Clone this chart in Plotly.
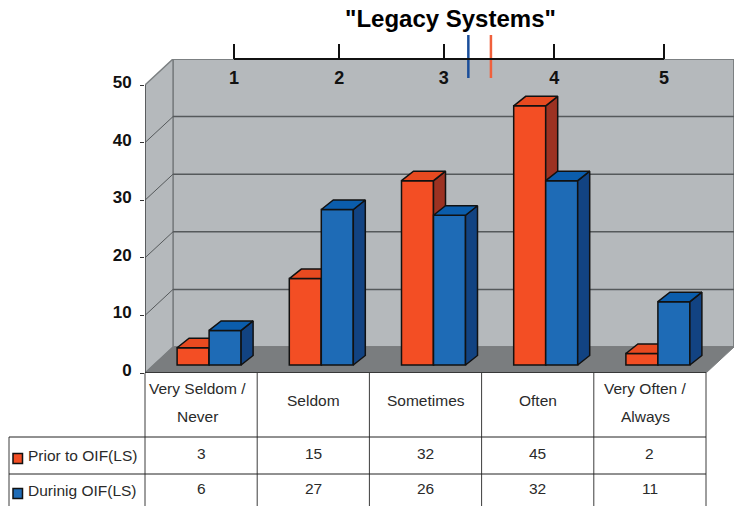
import plotly.graph_objects as go

W, H = 739, 506

CATEGORIES = [["Very Seldom /", "Never"], ["Seldom"], ["Sometimes"], ["Often"], ["Very Often /", "Always"]]
PRIOR = [3, 15, 32, 45, 2]
DURING = [6, 27, 26, 32, 11]
SERIES_NAMES = ["Prior to OIF(LS)", "Durinig OIF(LS)"]
Y_TICKS = [0, 10, 20, 30, 40, 50]
SCALE_TICKS = [1, 1.98, 2.95, 3.98, 5]
SCALE_LABELS = ["1", "2", "3", "4", "5"]
MEAN_PRIOR = 3.39
MEAN_DURING = 3.18

FONT = "Liberation Sans"
ORANGE, ORANGE_SIDE, ORANGE_TOP = "#F34E24", "#9C3222", "#E84A20"
BLUE, BLUE_SIDE, BLUE_TOP = "#1E6BB6", "#124382", "#0B5DAC"
WALL, FLOOR = "#B5B9BC", "#7A7D7F"

# pixel geometry of the front plane
X0, XW = 145, 112.2
Y0, YU = 373, 5.76
BACK_X, BACK_Y = 28 / XW, 26 / YU      # chart depth in data units
BAR_DX, BAR_DY = 12 / XW, 9.5 / YU     # bar depth in data units
BAR_W = 32 / XW
BAR_LIFT = 8 / YU
BAR_SHIFT = 8 / XW
X_MAX = (734 - X0) / XW
Y_MAX = (Y0 - 59) / YU


def px(x):
    return x / W


def py(y):
    return 1 - y / H


fig = go.Figure()


def add_series(values, shift, col, side, top, name, xa, ya):
    xs = [i + 0.5 + BAR_SHIFT + shift for i in range(len(values))]
    fig.add_trace(go.Bar(x=xs, y=values, base=[BAR_LIFT] * len(values), width=BAR_W, name=name,
                         marker=dict(color=col, line=dict(color="#111111", width=1.5)),
                         xaxis=xa, yaxis=ya, showlegend=False))
    for xc, v in zip(xs, values):
        l, r = xc - BAR_W / 2, xc + BAR_W / 2
        t = BAR_LIFT + v
        fig.add_trace(go.Scatter(x=[r, r + BAR_DX, r + BAR_DX, r, r], y=[BAR_LIFT, BAR_LIFT + BAR_DY, t + BAR_DY, t, BAR_LIFT],
                                 fill="toself", fillcolor=side, mode="lines", line=dict(color="#111111", width=1.5),
                                 hoverinfo="skip", showlegend=False, xaxis=xa, yaxis=ya))
        fig.add_trace(go.Scatter(x=[l, l + BAR_DX, r + BAR_DX, r, l], y=[t, t + BAR_DY, t + BAR_DY, t, t],
                                 fill="toself", fillcolor=top, mode="lines", line=dict(color="#111111", width=1.5),
                                 hoverinfo="skip", showlegend=False, xaxis=xa, yaxis=ya))


add_series(PRIOR, -BAR_W / 2, ORANGE, ORANGE_SIDE, ORANGE_TOP, SERIES_NAMES[0], "x", "y")
add_series(DURING, BAR_W / 2, BLUE, BLUE_SIDE, BLUE_TOP, SERIES_NAMES[1], "x2", "y2")

for val, col in [(MEAN_DURING, "#1A4E9A"), (MEAN_PRIOR, "#F0603C")]:
    fig.add_trace(go.Scatter(x=[val, val], y=[0, 1], mode="lines", line=dict(color=col, width=2.5),
                             hoverinfo="skip", showlegend=False, xaxis="x3", yaxis="y3"))

shapes = []
n = len(CATEGORIES)
# walls and floor, in data coordinates
shapes.append(dict(type="path", layer="below", xref="x", yref="y", fillcolor=WALL, line=dict(color="#7C8082", width=2),
                   path=f"M {BACK_X} {BACK_Y} L {X_MAX} {BACK_Y} L {X_MAX} {50 + BACK_Y} L {BACK_X} {50 + BACK_Y} Z"))
shapes.append(dict(type="path", layer="below", xref="x", yref="y", fillcolor=WALL, line=dict(color="#7C8082", width=1.5),
                   path=f"M 0 0 L {BACK_X} {BACK_Y} L {BACK_X} {50 + BACK_Y} L 0 50 Z"))
shapes.append(dict(type="path", layer="below", xref="x", yref="y", fillcolor=FLOOR, line=dict(color=FLOOR, width=1),
                   path=f"M 0 0 L {n} 0 L {X_MAX} {BACK_Y} L {BACK_X} {BACK_Y} Z"))
for t in Y_TICKS[1:-1]:
    shapes.append(dict(type="line", layer="below", xref="x", yref="y", x0=BACK_X, x1=X_MAX, y0=t + BACK_Y, y1=t + BACK_Y,
                       line=dict(color="#55595B", width=1.5)))
    shapes.append(dict(type="line", layer="below", xref="x", yref="y", x0=0, x1=BACK_X, y0=t, y1=t + BACK_Y,
                       line=dict(color="#55595B", width=1)))
shapes.append(dict(type="line", layer="below", xref="x", yref="y", x0=0, x1=0, y0=0, y1=50, line=dict(color="#4A4D4F", width=1.5)))
shapes.append(dict(type="line", layer="below", xref="x", yref="y", x0=0, x1=n, y0=0, y1=0, line=dict(color="#222222", width=1.5)))
# top scale rule
shapes.append(dict(type="line", xref="x3", yref="paper", x0=SCALE_TICKS[0], x1=SCALE_TICKS[-1], y0=py(59), y1=py(59),
                   line=dict(color="#111111", width=2)))

# table rules
for i in range(n + 1):
    xp = X0 + i * XW
    shapes.append(dict(type="line", xref="paper", yref="paper", x0=px(xp), x1=px(xp), y0=py(373), y1=py(506),
                       line=dict(color="#3C3C3C", width=1)))
shapes.append(dict(type="line", xref="paper", yref="paper", x0=px(9), x1=px(9), y0=py(437), y1=py(506), line=dict(color="#3C3C3C", width=1)))
for yp in (437, 474):
    shapes.append(dict(type="line", xref="paper", yref="paper", x0=px(9), x1=px(706), y0=py(yp), y1=py(yp), line=dict(color="#222222", width=1)))
# legend keys
for yc, col in ((458.5, ORANGE), (493.5, BLUE)):
    shapes.append(dict(type="rect", xref="paper", yref="paper", x0=px(13), x1=px(22.5), y0=py(yc - 5), y1=py(yc + 5),
                       fillcolor=col, line=dict(color="#111111", width=1.5)))

ann = []


def text(x, y, s, size=15.5, xanchor="center", color="#2A2A2A", bold=False):
    ann.append(dict(xref="paper", yref="paper", x=px(x), y=py(y), text=f"<b>{s}</b>" if bold else s, showarrow=False,
                    xanchor=xanchor, yanchor="middle", font=dict(family=FONT, size=size, color=color)))


text(451, 18, '"Legacy Systems"', size=24, color="#000000", bold=True)
for i, lines in enumerate(CATEGORIES):
    xc = X0 + (i + 0.5) * XW
    if len(lines) == 2:
        xc -= 4
        text(xc, 388.5, lines[0])
        text(xc, 416.5, lines[1])
    else:
        text(xc, 400, lines[0])
    text(X0 + (i + 0.5) * XW, 453, str(PRIOR[i]))
    text(X0 + (i + 0.5) * XW, 488.5, str(DURING[i]))
text(26, 455, SERIES_NAMES[0], xanchor="left")
text(26, 490, SERIES_NAMES[1], xanchor="left")

x_dom = [px(X0), px(734)]
y_dom = [py(Y0), py(59)]
axis_off = dict(visible=False, fixedrange=True)

fig.update_layout(
    width=W, height=H, autosize=False, margin=dict(l=0, r=0, t=0, b=0, autoexpand=False),
    paper_bgcolor="white", plot_bgcolor="rgba(0,0,0,0)", barmode="overlay", showlegend=False,
    shapes=shapes, annotations=ann,
    xaxis=dict(domain=x_dom, range=[0, X_MAX], **axis_off),
    yaxis=dict(domain=y_dom, range=[0, Y_MAX], tickvals=Y_TICKS, ticks="outside", ticklen=4, tickcolor="#333333",
               showgrid=False, zeroline=False, showline=False, fixedrange=True, ticklabelstandoff=5, ticklabelshift=-3,
               tickfont=dict(family=FONT, size=17, color="#111111", weight=700)),
    xaxis2=dict(domain=x_dom, range=[0, X_MAX], overlaying="x", anchor="y2", **axis_off),
    yaxis2=dict(domain=y_dom, range=[0, Y_MAX], overlaying="y", anchor="x2", **axis_off),
    xaxis3=dict(domain=[px(234 - 53.75), px(664 + 53.75)], range=[0.5, 5.5], side="top", anchor="free", position=py(59),
                tickvals=SCALE_TICKS, ticktext=SCALE_LABELS, ticks="outside", ticklen=15, tickwidth=1.5, tickcolor="#111111",
                ticklabelposition="inside", ticklabelstandoff=8, showline=False,
                showgrid=False, zeroline=False, fixedrange=True,
                tickfont=dict(family=FONT, size=18, color="#111111", weight=700)),
    yaxis3=dict(domain=[py(78), py(35)], range=[0, 1], anchor="x3", **axis_off),
)

fig.write_html("out.html", config=dict(displayModeBar=False),
               post_script="document.body.style.margin='0';document.documentElement.style.overflow='hidden';")
